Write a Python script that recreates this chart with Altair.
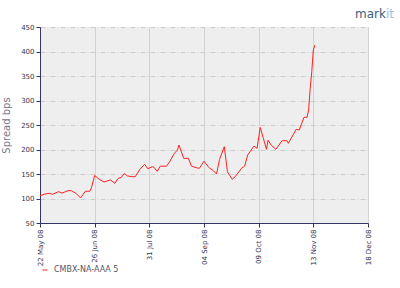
import altair as alt
import pandas as pd

dates = [
    "2008-05-22", "2008-05-25", "2008-05-28", "2008-05-30", "2008-06-03", "2008-06-05",
    "2008-06-09", "2008-06-11", "2008-06-14", "2008-06-17", "2008-06-20", "2008-06-23",
    "2008-06-24", "2008-06-26", "2008-06-29", "2008-07-02", "2008-07-06", "2008-07-09",
    "2008-07-11", "2008-07-13", "2008-07-15", "2008-07-17", "2008-07-20", "2008-07-22",
    "2008-07-23", "2008-07-25", "2008-07-28", "2008-07-30", "2008-08-02", "2008-08-03",
    "2008-08-05", "2008-08-07", "2008-08-11", "2008-08-13", "2008-08-16", "2008-08-18",
    "2008-08-19", "2008-08-22", "2008-08-25", "2008-08-27", "2008-08-30", "2008-09-01",
    "2008-09-04", "2008-09-07", "2008-09-10", "2008-09-12", "2008-09-14", "2008-09-17",
    "2008-09-19", "2008-09-22", "2008-09-24", "2008-09-28", "2008-09-30", "2008-10-02",
    "2008-10-06", "2008-10-08", "2008-10-10", "2008-10-12", "2008-10-14", "2008-10-15",
    "2008-10-17", "2008-10-20", "2008-10-24", "2008-10-27", "2008-10-28", "2008-10-31",
    "2008-11-02", "2008-11-04", "2008-11-07", "2008-11-09", "2008-11-10", "2008-11-11",
    "2008-11-12", "2008-11-13", "2008-11-14",
]
spread = [
    105.7, 109, 110.6, 108.6, 114, 111,
    116, 116, 110.6, 101, 114.6, 115,
    122.8, 147, 139, 133.7, 137.8, 131,
    141, 143, 151, 146, 144.5, 144.5,
    150, 159.6, 169.8, 160.8, 164.9, 163.6,
    155.5, 166, 166, 175, 192, 199,
    209, 182, 182, 166, 163, 161.6,
    176, 163.7, 156.7, 150, 180, 205.7,
    154.7, 139.2, 144.5, 161.6, 166, 188.8,
    207, 202.4, 245, 222.8, 200.4, 219,
    209, 200.4, 218, 218, 212.6, 229.6,
    241, 239.8, 265.7, 265.7, 280.6, 324.9,
    358.8, 403, 413,
]
series_name = "CMBX-NA-AAA 5"
tick_dates = [(2008, 5, 22), (2008, 6, 26), (2008, 7, 31), (2008, 9, 4),
              (2008, 10, 9), (2008, 11, 13), (2008, 12, 18)]
y_ticks = [50, 100, 150, 200, 250, 300, 350, 400, 450]

months = ["Jan", "Feb", "Mar", "Apr", "May", "Jun", "Jul", "Aug", "Sep", "Oct", "Nov", "Dec"]

df = pd.DataFrame({"date": dates, "spread": spread, "series": [series_name] * len(dates)})


def dt(t):
    return alt.DateTime(year=t[0], month=months[t[1] - 1], date=t[2], utc=True)


line = alt.Chart(df).mark_line(strokeWidth=1, clip=True).encode(
    x=alt.X(
        "date:T",
        scale=alt.Scale(type="utc", domain=[dt(tick_dates[0]), dt(tick_dates[-1])]),
        axis=alt.Axis(
            values=[dt(t) for t in tick_dates],
            labelExpr="utcFormat(datum.value, '%d %b %y')",
            labelAngle=270,
            title=None,
            grid=True,
            gridColor="#d2d2d2",
            gridWidth=1,
            tickSize=4,
            labelPadding=2,
        ),
    ),
    y=alt.Y(
        "spread:Q",
        scale=alt.Scale(domain=[50, 450], nice=False, zero=False),
        axis=alt.Axis(
            values=y_ticks,
            title="Spread bps",
            grid=True,
            gridColor="#cccccc",
            gridDash=[5, 2, 1, 2],
            gridWidth=1,
            tickSize=4,
            labelPadding=2,
            titlePadding=9,
        ),
    ),
    color=alt.Color(
        "series:N",
        scale=alt.Scale(domain=[series_name], range=["#ff2020"]),
        legend=alt.Legend(
            orient="none",
            legendX=1,
            legendY=239,
            title=None,
            symbolType="stroke",
            symbolStrokeWidth=1,
            symbolStrokeColor="#ff6060",
            symbolSize=25,
            labelOffset=5,
            labelFontSize=8,
            labelColor="#555566",
            labelFont="DejaVu Sans",
        ),
    ),
)

logo1 = alt.Chart(pd.DataFrame({"t": ["mark"]})).mark_text(
    align="left", baseline="alphabetic", fontSize=12, font="DejaVu Sans", color="#3d5c78"
).encode(text="t:N", x=alt.value(315), y=alt.value(-9))

logo2 = alt.Chart(pd.DataFrame({"t": ["it"]})).mark_text(
    align="left", baseline="alphabetic", fontSize=12, font="DejaVu Sans", color="#8cc6de"
).encode(text="t:N", x=alt.value(346), y=alt.value(-9))

chart = alt.layer(line, logo1, logo2).properties(
    width=328,
    height=196,
    autosize="none",
    padding={"left": 40, "top": 27, "right": 32, "bottom": 65},
    background="white",
).configure_view(
    fill="#eeeeee", stroke="transparent"
).configure_axis(
    domainColor="#333366",
    tickColor="#333366",
    labelColor="#333355",
    labelFont="DejaVu Sans",
    labelFontSize=7,
    titleFont="DejaVu Sans",
    titleFontSize=10,
    titleFontWeight="normal",
    titleColor="#777788",
)

chart.save("out.html", embed_options={"renderer": "svg", "actions": False})
